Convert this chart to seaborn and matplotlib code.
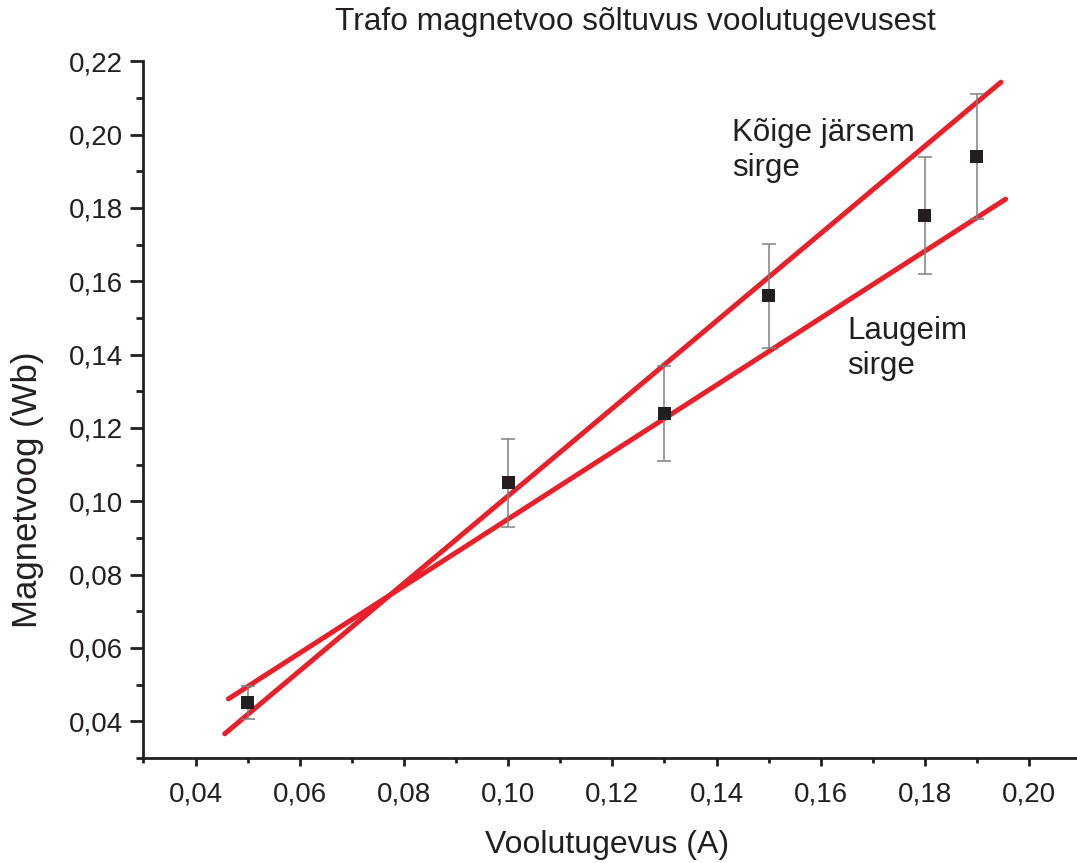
import numpy as np
import pandas as pd
import matplotlib
matplotlib.use('Agg')
import matplotlib.pyplot as plt
from matplotlib.ticker import MultipleLocator, FuncFormatter
import seaborn as sns

# Measured data
current = [0.05, 0.10, 0.13, 0.15, 0.18, 0.19]
flux = [0.045, 0.105, 0.124, 0.156, 0.178, 0.194]
flux_err = [0.0045, 0.012, 0.013, 0.0143, 0.016, 0.017]

# Fit lines (end points)
steep_x = [0.0456, 0.1946]
steep_y = [0.0366, 0.2143]
flat_x = [0.0463, 0.1955]
flat_y = [0.0461, 0.1824]

title = 'Trafo magnetvoo sõltuvus voolutugevusest'
xlabel = 'Voolutugevus (A)'
ylabel = 'Magnetvoog (Wb)'
steep_label = 'Kõige järsem\nsirge'
flat_label = 'Laugeim\nsirge'

sns.set_style('ticks')
plt.rcParams['font.family'] = ['Liberation Sans', 'DejaVu Sans']

fig = plt.figure(figsize=(10.77, 8.63), dpi=100)
ax = fig.add_axes([0.1332, 0.1217, 0.8668, 0.8073])

ink = '#231f20'
red = '#e8202a'
sns.lineplot(x=steep_x, y=steep_y, ax=ax, color=red, lw=3.6, solid_capstyle='round')
sns.lineplot(x=flat_x, y=flat_y, ax=ax, color=red, lw=3.6, solid_capstyle='round')

ax.errorbar(current, flux, yerr=flux_err, fmt='none', ecolor='#808080',
            elinewidth=1.1, capsize=5, capthick=1.1, zorder=3)
df = pd.DataFrame({'I': current, 'Phi': flux})
sns.scatterplot(data=df, x='I', y='Phi', ax=ax, marker='s', s=88,
                color=ink, edgecolor='none', zorder=4)

ax.set_xlim(0.03, 0.2092)
ax.set_ylim(0.03, 0.22)
ax.xaxis.set_minor_locator(MultipleLocator(0.01))
ax.yaxis.set_minor_locator(MultipleLocator(0.01))
ax.xaxis.set_major_locator(plt.FixedLocator(np.arange(0.04, 0.2001, 0.02)))
ax.yaxis.set_major_locator(plt.FixedLocator(np.arange(0.04, 0.2201, 0.02)))
fmt = FuncFormatter(lambda v, p: f'{v:.2f}'.replace('.', ','))
ax.xaxis.set_major_formatter(fmt)
ax.yaxis.set_major_formatter(fmt)

for s in ['top', 'right']:
    ax.spines[s].set_visible(False)
for s in ['left', 'bottom']:
    ax.spines[s].set_linewidth(2)
    ax.spines[s].set_color(ink)

ax.tick_params(axis='y', which='major', length=9.5, width=2, color=ink,
               labelsize=20, pad=5, labelcolor=ink)
ax.tick_params(axis='y', which='minor', length=5, width=2, color=ink)
ax.tick_params(axis='x', which='major', length=6, width=2, color=ink,
               labelsize=20, pad=11, labelcolor=ink)
ax.tick_params(axis='x', which='minor', length=3.5, width=2, color=ink)

ax.set_xlabel('')
ax.set_ylabel('')
fig.text(0.5636, 0.0116, xlabel, ha='center', va='baseline', fontsize=23, color=ink)
fig.text(0.0255, 0.432, ylabel, ha='center', va='center', rotation=90,
         fontsize=25, color=ink)
fig.text(0.59, 0.975, title, ha='center', va='center', fontsize=22.8, color=ink)

ax.text(0.1430, 0.2046, steep_label, ha='left', va='top', fontsize=22.5,
        color=ink, linespacing=1.22)
ax.text(0.1651, 0.1505, flat_label, ha='left', va='top', fontsize=22.5,
        color=ink, linespacing=1.22)

fig.savefig('out.png', dpi=100)
